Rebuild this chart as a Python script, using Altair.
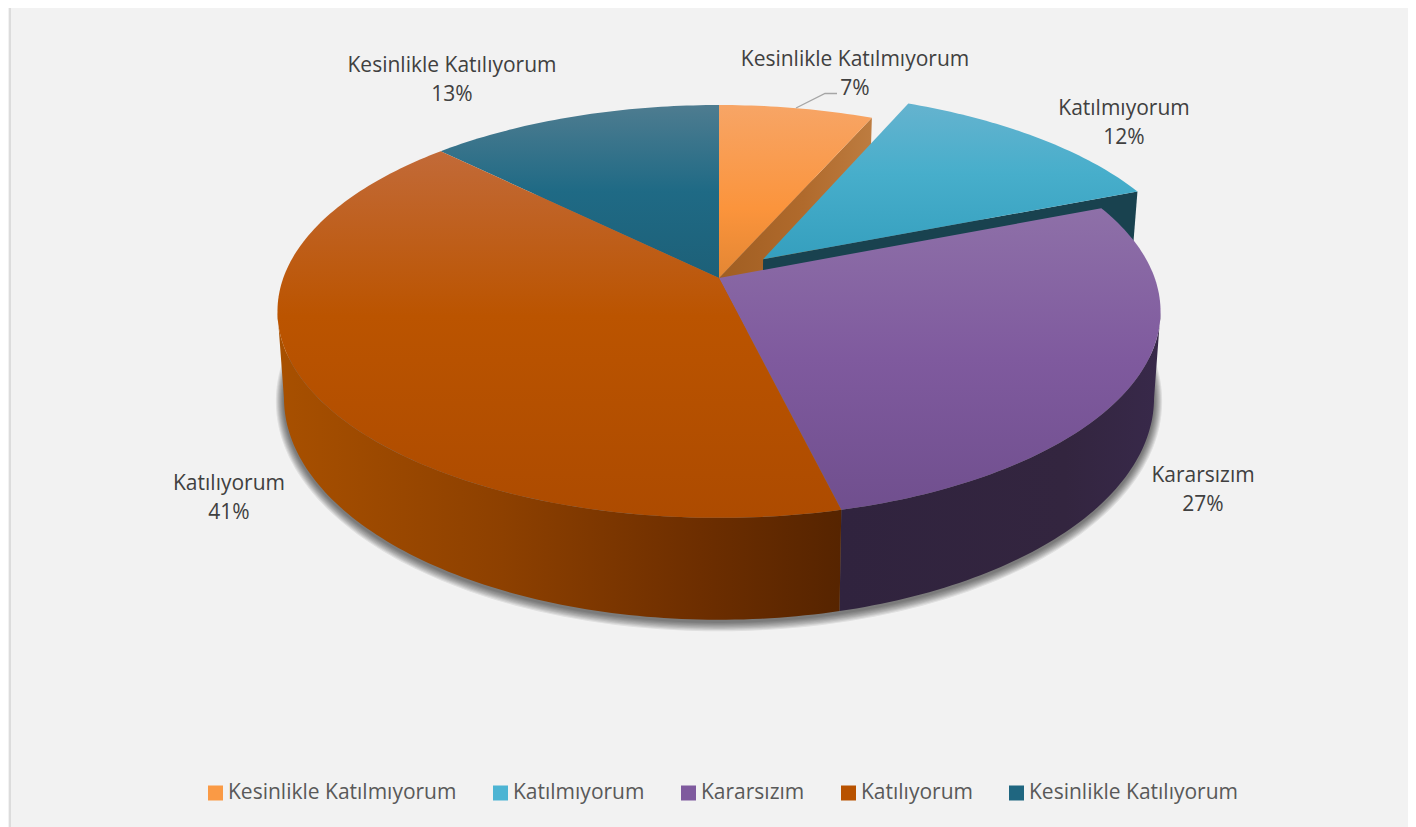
import math
import altair as alt
import pandas as pd

categories = ["Kesinlikle Katılmıyorum", "Katılmıyorum", "Kararsızım", "Katılıyorum", "Kesinlikle Katılıyorum"]
values = [6.6, 12.4, 27.2, 41.2, 12.6]
percent_labels = ["7%", "12%", "27%", "41%", "13%"]
legend_colors = ["#fa9a45", "#4db4d3", "#7f5a9e", "#b85200", "#1f6680"]

# picture geometry (perspective view of a disc)
W, H = 1400, 819
CX = 719
PERSP = 0.162
TOP = dict(a=435.7, b=201.0, y0=278.0)
BOT = dict(a=429.3, b=216.0, y0=362.0)
EXPLODE = {1: (0.1027, 0.095)}
SIDE = math.degrees(math.asin(math.sqrt(1 - PERSP ** 2)))  # silhouette angle measured from the top
RIGHT_EXTREME = 180 - SIDE
LEFT_EXTREME = 180 + SIDE

xs = alt.Scale(domain=[8, 1408], range=[0, W], nice=False, zero=False)
ys = alt.Scale(domain=[8, 827], range=[0, H], nice=False, zero=False)


def project(deg, plane, r=1.0, du=0.0, dv=0.0, grow=0.0, shift=0.0):
    u = r * math.sin(math.radians(deg)) + du
    v = r * math.cos(math.radians(deg)) + dv
    d = 1 + PERSP * v
    return CX + (plane["a"] + grow) * u / d, plane["y0"] + shift - (plane["b"] + grow) * v / d


def arc(start, end, plane, **kw):
    n = max(2, int(abs(end - start)) + 2)
    return [project(start + (end - start) * i / (n - 1), plane, **kw) for i in range(n)]


def gradient(stops, horizontal=False):
    return alt.LinearGradient(
        gradient="linear",
        x1=0, y1=0,
        x2=1 if horizontal else 0,
        y2=0 if horizontal else 1,
        stops=[alt.GradientStop(offset=o, color=c) for o, c in stops],
    )


def poly(points, fill, opacity=1.0):
    df = pd.DataFrame(points, columns=["x", "y"])
    df["i"] = range(len(df))
    return alt.Chart(df).mark_line(fill=fill, fillOpacity=opacity, strokeWidth=0, interpolate="linear").encode(
        x=alt.X("x:Q", scale=xs, axis=None),
        y=alt.Y("y:Q", scale=ys, axis=None),
        order="i:Q",
    )


# slice boundaries, clockwise from the top
edges = [0.0]
for v in values:
    edges.append(edges[-1] + v * 3.6)


def top_face(i):
    du, dv = EXPLODE.get(i, (0.0, 0.0))
    apex = (CX + TOP["a"] * du / (1 + PERSP * dv), TOP["y0"] - TOP["b"] * dv / (1 + PERSP * dv))
    return [apex] + arc(edges[i], edges[i + 1], TOP, du=du, dv=dv)


def outer_wall(start, end):
    return arc(start, end, TOP) + arc(end, start, BOT)


def cut_wall(i, deg):
    du, dv = EXPLODE.get(i, (0.0, 0.0))
    return [
        project(deg, TOP, r=0, du=du, dv=dv),
        project(deg, TOP, du=du, dv=dv),
        project(deg, BOT, du=du, dv=dv),
        project(deg, BOT, r=0, du=du, dv=dv),
    ]


top_grads = [
    [(0, "#f7a566"), (0.6, "#fb943c"), (1, "#e38633")],
    [(0, "#65b3cf"), (0.45, "#47aecb"), (1, "#359fbe")],
    [(0, "#8e70a8"), (0.5, "#7f5a9e"), (1, "#704f8e")],
    [(0, "#c26a38"), (0.45, "#bb5400"), (1, "#ad4b00")],
    [(0, "#4e7c90"), (0.5, "#1f6a85"), (1, "#1d6078")],
]

layers = []

# border and shadow
layers.append(alt.Chart(pd.DataFrame({"x": [10], "a": [8], "b": [827]})).mark_rule(color="#dcdcdc", strokeWidth=2).encode(
    x=alt.X("x:Q", scale=xs, axis=None), y=alt.Y("a:Q", scale=ys, axis=None), y2="b:Q"))
for g in [8, 7, 6, 5, 4, 3, 2, 1]:
    layers.append(poly(arc(0, 360, BOT, grow=g, shift=2), "#000000", 0.08))

# hidden-side walls
layers.append(poly(cut_wall(0, edges[1]), gradient([(0, "#a05e22"), (0.55, "#b06a2c"), (1, "#bd7c40")], True)))
layers.append(poly(cut_wall(1, edges[2]), "#19424f"))
layers.append(poly(top_face(1), gradient(top_grads[1])))
layers.append(poly(top_face(0), gradient(top_grads[0])))
layers.append(poly(top_face(4), gradient(top_grads[4])))

# front walls, from the shared slice edge out to the silhouette of the disc
layers.append(poly(outer_wall(RIGHT_EXTREME, edges[3]), gradient([(0, "#30233e"), (0.7, "#33253f"), (1, "#38294a")], True)))
layers.append(poly(outer_wall(edges[3], LEFT_EXTREME), gradient([(0, "#a85000"), (0.4, "#8d4000"), (0.75, "#6d2e00"), (1, "#562400")], True)))

layers.append(poly(top_face(2), gradient(top_grads[2])))
layers.append(poly(top_face(3), gradient(top_grads[3])))

# leader line
leader = pd.DataFrame({"x": [796, 825, 837], "y": [108, 93.5, 93.5], "i": [0, 1, 2]})
layers.append(alt.Chart(leader).mark_line(color="#a6a6a6", strokeWidth=1.3).encode(
    x=alt.X("x:Q", scale=xs, axis=None), y=alt.Y("y:Q", scale=ys, axis=None), order="i:Q"))

# data labels
label_x = [855, 1124, 1203, 229, 452]
label_y = [60, 109, 476, 484, 66]
label_rows = []
for c, p, x, y in zip(categories, percent_labels, label_x, label_y):
    label_rows.append({"x": x, "y": y, "t": c})
    label_rows.append({"x": x, "y": y + 29, "t": p})
layers.append(alt.Chart(pd.DataFrame(label_rows)).mark_text(
    font="Open Sans", fontSize=21, color="#404040", align="center", baseline="middle"
).encode(x=alt.X("x:Q", scale=xs, axis=None), y=alt.Y("y:Q", scale=ys, axis=None), text="t:N"))

# legend
legend_df = pd.DataFrame({"c": categories, "x": [CX] * 5, "y": [400] * 5})
layers.append(alt.Chart(legend_df).mark_square(size=0, opacity=0).encode(
    x=alt.X("x:Q", scale=xs, axis=None),
    y=alt.Y("y:Q", scale=ys, axis=None),
    color=alt.Color("c:N", scale=alt.Scale(domain=categories, range=legend_colors), legend=alt.Legend(
        title=None, orient="none", legendX=197, legendY=771, direction="horizontal", columns=5,
        gridAlign="none", columnPadding=33, symbolType="square", symbolSize=225, symbolOpacity=1,
        symbolStrokeWidth=0, labelFont="Open Sans", labelFontSize=21, labelColor="#595959",
        labelOffset=2, labelLimit=400, clipHeight=28,
    )),
))

chart = alt.layer(*layers).properties(
    width=W, height=H, padding=0, autosize=alt.AutoSizeParams(type="none"), background="#f2f2f2"
).configure_view(stroke=None)

chart.save("out.html", embed_options={"renderer": "svg", "actions": False})
